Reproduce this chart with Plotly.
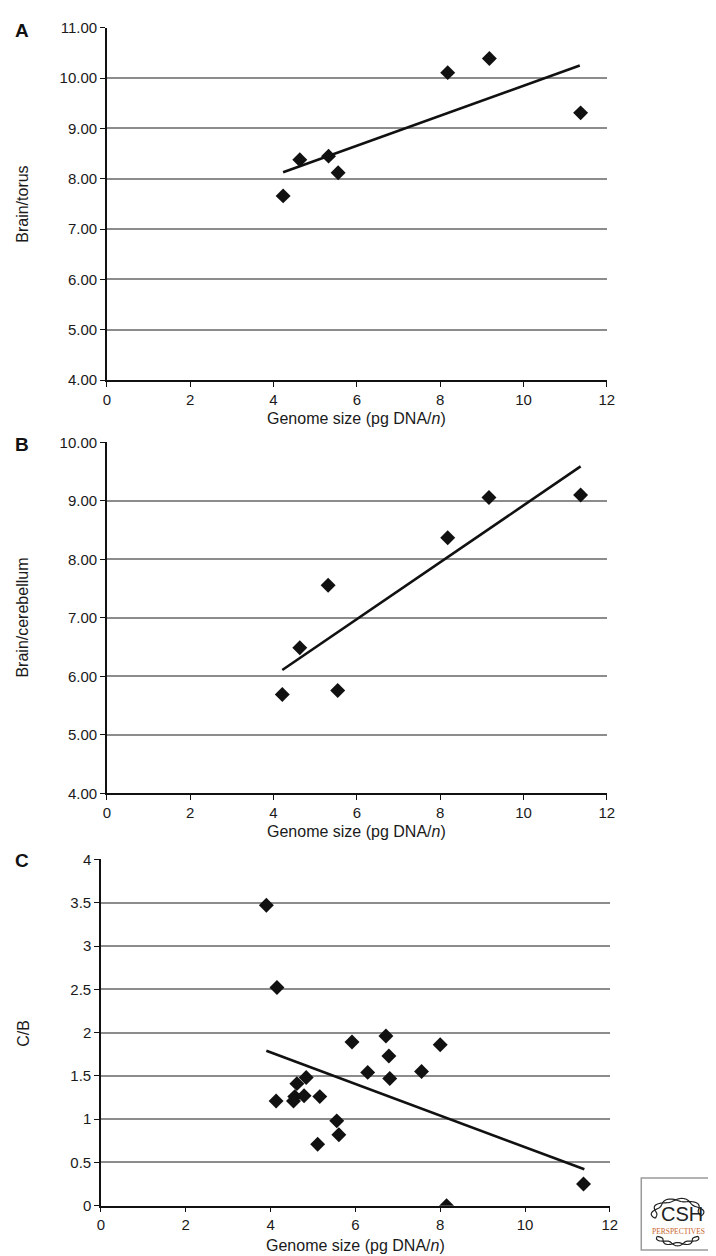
import math
import plotly.graph_objects as go

# ---------------- data ----------------
a_genome = [4.23, 4.63, 5.32, 5.55, 8.18, 9.18, 11.37]
a_brain_torus = [7.66, 8.38, 8.45, 8.12, 10.11, 10.39, 9.31]
a_trend_x = [4.23, 11.35]
a_trend_y = [8.13, 10.25]

b_genome = [4.21, 4.63, 5.31, 5.54, 8.18, 9.17, 11.37]
b_brain_cerebellum = [5.69, 6.49, 7.56, 5.76, 8.37, 9.06, 9.10]
b_trend_x = [4.21, 11.37]
b_trend_y = [6.11, 9.59]

c_genome = [3.90, 4.15, 4.13, 4.54, 4.57, 4.62, 4.79, 4.84, 5.16, 5.11, 5.56,
            5.61, 5.92, 6.29, 6.72, 6.79, 6.81, 7.56, 8.00, 8.15, 11.38]
c_ratio = [3.47, 2.52, 1.21, 1.21, 1.26, 1.41, 1.27, 1.48, 1.26, 0.71, 0.98,
           0.82, 1.89, 1.54, 1.96, 1.73, 1.47, 1.55, 1.86, 0.00, 0.25]
c_trend_x = [3.90, 11.40]
c_trend_y = [1.79, 0.42]

x_ticks = [0, 2, 4, 6, 8, 10, 12]
a_yticks = [4, 5, 6, 7, 8, 9, 10, 11]
b_yticks = [4, 5, 6, 7, 8, 9, 10]
c_yticks = [0, 0.5, 1, 1.5, 2, 2.5, 3, 3.5, 4]
c_yticklabels = ["0", "0.5", "1", "1.5", "2", "2.5", "3", "3.5", "4"]

panel_letters = ["A", "B", "C"]
y_titles = ["Brain/torus", "Brain/cerebellum", "C/B"]
x_title = "Genome size (pg DNA/<i>n</i>)"

# ---------------- layout helpers ----------------
W, H = 716, 1256


def px(x):
    return x / W


def py(y):
    return 1 - y / H


TICK_FONT = dict(family="Liberation Sans, Arial, sans-serif", size=15, color="#1a1a1a")
TITLE_FONT = dict(family="Liberation Sans, Arial, sans-serif", size=16, color="#1a1a1a")
GRID = "#8c8c8c"
AXIS = "#111111"

fig = go.Figure()

panels = [
    dict(x=a_genome, y=a_brain_torus, tx=a_trend_x, ty=a_trend_y,
         xd=[px(96.5), px(605)], yd=[py(368), py(11)],
         yr=[4, 11], yt=a_yticks, ytl=[f"{v:.2f}" for v in a_yticks]),
    dict(x=b_genome, y=b_brain_cerebellum, tx=b_trend_x, ty=b_trend_y,
         xd=[px(96.5), px(605)], yd=[py(787), py(431.3)],
         yr=[4, 10], yt=b_yticks, ytl=[f"{v:.2f}" for v in b_yticks]),
    dict(x=c_genome, y=c_ratio, tx=c_trend_x, ty=c_trend_y,
         xd=[px(90.5), px(608)], yd=[py(1205), py(854)],
         yr=[0, 4], yt=c_yticks, ytl=c_yticklabels),
]

annotations = []
layout_axes = {}
for i, p in enumerate(panels):
    n = "" if i == 0 else str(i + 1)
    xa, ya = "x" + n, "y" + n
    fig.add_trace(go.Scatter(x=p["tx"], y=p["ty"], mode="lines", xaxis=xa, yaxis=ya,
                             line=dict(color="#111111", width=2.6), showlegend=False,
                             hoverinfo="skip"))
    fig.add_trace(go.Scatter(x=p["x"], y=p["y"], mode="markers", xaxis=xa, yaxis=ya,
                             marker=dict(symbol="diamond", size=11.5, color="#111111",
                                         line=dict(width=0)),
                             showlegend=False))
    layout_axes["xaxis" + n] = dict(
        domain=p["xd"], anchor=ya, range=[0, 12], tickvals=x_ticks,
        ticktext=[str(v) for v in x_ticks], showgrid=False, zeroline=False,
        showline=True, linecolor=AXIS, linewidth=1.5, ticks="outside", ticklen=5,
        tickwidth=1.3, tickcolor=AXIS, tickfont=TICK_FONT, fixedrange=True)
    layout_axes["yaxis" + n] = dict(
        domain=p["yd"], anchor=xa, range=p["yr"], tickvals=p["yt"], ticktext=p["ytl"],
        showgrid=True, gridcolor=GRID, gridwidth=1.5, zeroline=False,
        showline=True, linecolor=AXIS, linewidth=1.5, ticks="outside", ticklen=5,
        tickwidth=1.3, tickcolor=AXIS, tickfont=TICK_FONT, fixedrange=True)

# panel letters
for letter, yy in zip(panel_letters, [13.5, 433, 855]):
    annotations.append(dict(text=f"<b>{letter}</b>", x=px(10.5), y=py(yy), xref="paper",
                            yref="paper", showarrow=False, xanchor="center", yanchor="middle",
                            font=dict(family="Liberation Sans, Arial, sans-serif", size=19,
                                      color="#111111")))
# y titles
for t, yy in zip(y_titles, [189.5, 609, 1030]):
    annotations.append(dict(text=t, x=px(11), y=py(yy), xref="paper", yref="paper",
                            showarrow=False, textangle=-90, xanchor="center",
                            yanchor="middle", font=TITLE_FONT))
# x titles
for xc, yy in zip([350.8, 350.8, 349.3], [407, 826, 1245]):
    annotations.append(dict(text=x_title, x=px(xc), y=py(yy), xref="paper", yref="paper",
                            showarrow=False, xanchor="center", yanchor="middle",
                            font=TITLE_FONT))

# ---------------- CSH Perspectives logo (decorative) ----------------
shapes = [dict(type="rect", xref="paper", yref="paper", x0=px(640), x1=px(711),
               y0=py(1250), y1=py(1177), line=dict(color="#9a9a9a", width=1.5),
               fillcolor="white")]


def strand_path(cx, cy, rx, ry, a0, a1, amp, phase, waves=6, steps=60):
    pts = []
    for k in range(steps + 1):
        t = a0 + (a1 - a0) * k / steps
        r = 1 + amp * math.sin(waves * math.pi * k / steps + phase)
        x = cx + rx * r * math.cos(t)
        y = cy - ry * r * math.sin(t)
        pts.append((px(x), py(y)))
    return "M " + " L ".join(f"{a:.5f},{b:.5f}" for a, b in pts)


for ph in (0, math.pi):
    shapes.append(dict(type="path", xref="paper", yref="paper",
                       path=strand_path(677, 1213, 24, 14, math.radians(200),
                                        math.radians(-10), 0.12, ph),
                       line=dict(color="#222222", width=1.2)))
    shapes.append(dict(type="path", xref="paper", yref="paper",
                       path=strand_path(677, 1232, 22, 12, math.radians(-160),
                                        math.radians(-20), 0.14, ph, waves=5),
                       line=dict(color="#222222", width=1.2)))

annotations.append(dict(text="CSH", x=px(681), y=py(1213), xref="paper", yref="paper",
                        showarrow=False, xanchor="center", yanchor="middle",
                        font=dict(family="Liberation Sans Narrow, Liberation Sans, sans-serif",
                                  size=20, color="#222222")))
annotations.append(dict(text="PERSPECTIVES", x=px(678), y=py(1231.5), xref="paper",
                        yref="paper", showarrow=False, xanchor="center", yanchor="middle",
                        font=dict(family="Liberation Serif, serif", size=7.5,
                                  color="#c8642a")))

fig.update_layout(width=W, height=H, autosize=False,
                  margin=dict(l=0, r=0, t=0, b=0, pad=0),
                  paper_bgcolor="white", plot_bgcolor="white",
                  annotations=annotations, shapes=shapes, showlegend=False,
                  **layout_axes)

fig.write_html("out.html")
